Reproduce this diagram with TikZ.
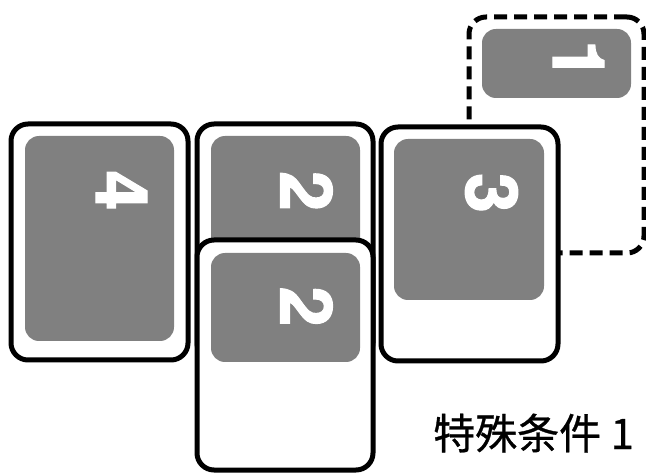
\documentclass[tikz,border=0pt]{standalone}
\usepackage{fontspec}
\newfontfamily\cjkfont{Noto Sans CJK SC}[FakeBold=0.8]
\newfontfamily\digitfont{TeX Gyre Heros}[BoldFeatures={FakeBold=1.6}]
\begin{document}
\begin{tikzpicture}[x=1pt,y=-1pt,
  card/.style={draw=black, line width=5pt, fill=white, rounded corners=17pt, inner sep=0pt, outer sep=0pt},
  dashcard/.style={card, dash pattern=on 13pt off 7pt},
  pad/.style={fill=black!50, rounded corners=14pt, inner sep=0pt, outer sep=0pt},
  digit/.style={text=white, font=\digitfont\bfseries\fontsize{72}{72}\selectfont, rotate=-90, inner sep=0pt},
  caption/.style={font=\cjkfont\fontsize{42}{48}\selectfont, inner sep=0pt, anchor=base west}
]
\useasboundingbox (0,0) rectangle (646,473);
% card 4
\node[card, minimum width=177pt, minimum height=236pt] (c4) at (99.5,242) {};
\node[pad, minimum width=149pt, minimum height=205pt] (p4) at (99.5,238.5) {};
\node[digit] (d4) at (121.5,190.5) {4};
% card 2 (upper)
\node[card, minimum width=176pt, minimum height=236pt] (c2a) at (285,242) {};
\node[pad, minimum width=149pt, minimum height=205pt] (p2a) at (285.5,238.5) {};
\node[digit] (d2a) at (306.5,191) {2};
% dashed card 1
\node[dashcard, minimum width=175pt, minimum height=236pt] (c1) at (556.5,135) {};
\node[pad, minimum width=149pt, minimum height=69pt] (p1) at (556.5,63.5) {};
\node[digit] (d1) at (578.5,60) {1};
% card 3
\node[card, minimum width=177pt, minimum height=234pt] (c3) at (469.5,244) {};
\node[pad, minimum width=150pt, minimum height=161pt] (p3) at (469,219.5) {};
\node[digit] (d3) at (491.5,193) {3};
% card 2 (lower)
\node[card, minimum width=176pt, minimum height=230pt] (c2b) at (285,355) {};
\node[pad, minimum width=149pt, minimum height=109pt] (p2b) at (285.5,307.5) {};
\node[digit] (d2b) at (306.5,306.5) {2};
% caption
\node[caption] (cap) at (433,449) {特殊条件 1};
\end{tikzpicture}
\end{document}
